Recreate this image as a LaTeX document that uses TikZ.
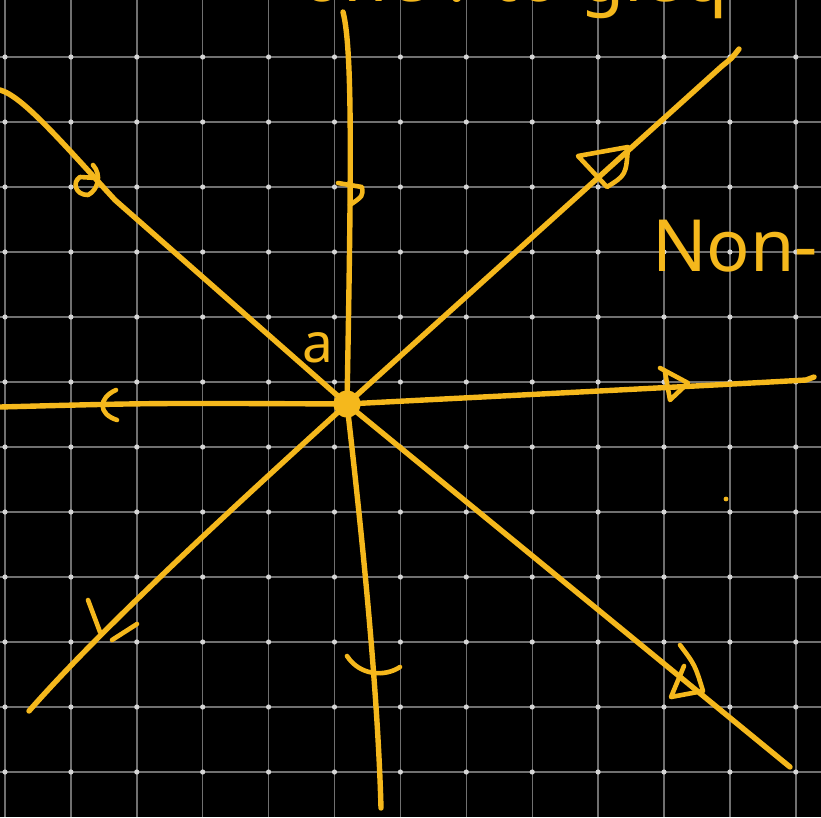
\documentclass[tikz,border=0pt]{standalone}
\usepackage{fontspec}
\setmainfont{Noto Sans}
\definecolor{yel}{HTML}{F5B81C}
\definecolor{gridgray}{HTML}{707070}
\definecolor{dotwhite}{HTML}{D4D4D4}
\begin{document}
\begin{tikzpicture}[x=1pt,y=-1pt,
  gridline/.style={draw=gridgray,line width=1.4pt},
  curve/.style={draw=yel,line width=5.4pt,line cap=round,line join=round},
  tip/.style={draw=yel,line width=4.6pt,line cap=round,line join=round},
  lbl/.style={text=yel,inner sep=0pt,anchor=base west}]
\useasboundingbox (0,0) rectangle (821,817);
\fill[black] (0,0) rectangle (821,817);
\begin{scope}
\clip (0,0) rectangle (821,817);
% grid
\foreach \i in {0,...,12} \draw[gridline] ({5+65.9*\i},0) -- ({5+65.9*\i},817);
\foreach \j in {0,...,11} \draw[gridline] (0,{57+65*\j}) -- (821,{57+65*\j});
\foreach \i in {0,...,12} \foreach \j in {0,...,11} \fill[dotwhite] ({5+65.9*\i},{57+65*\j}) circle (2.6pt);
% named points
\coordinate (c) at (347,404);
\coordinate (nt) at (343,12);
\coordinate (ne) at (739,49);
\coordinate (e) at (814,377);
\coordinate (se) at (790,767);
\coordinate (s) at (381,808);
\coordinate (sw) at (29,711);
\coordinate (w) at (0,407);
\coordinate (nw) at (0,90);
% trajectories
\draw[curve] (c) .. controls (351,180) and (353,50) .. (nt);
\draw[curve] (c) -- (722,66) .. controls (732,58) .. (ne);
\draw[curve] (c) .. controls (500,396) and (700,386) .. (806,380) -- (e);
\draw[curve] (c) -- (se);
\draw[curve] (c) .. controls (365,560) and (378,700) .. (s);
\draw[curve] (c) .. controls (230,510) and (100,630) .. (sw);
\draw[curve] (w) .. controls (150,403) .. (c);
\draw[curve] (nw) .. controls (22,96) and (60,140) .. (115,200) -- (c);
% arrow marks
\draw[tip] (338,183) -- (362,187) .. controls (363,196) .. (350,205);
\draw[tip] (578,156) -- (628,147) .. controls (626,175) .. (607,187) -- cycle;
\draw[tip] (660,368) -- (688,383) -- (670,400) -- (665,372);
\draw[tip] (680,645) .. controls (695,665) .. (703,691) -- (671,697) -- (684,666);
\draw[tip] (347,656) .. controls (360,676) and (385,677) .. (400,667);
\draw[tip] (88,600) -- (100,632);
\draw[tip] (112,640) -- (137,624);
\draw[tip] (116,390) .. controls (98,398) and (98,414) .. (117,420);
\draw[tip] (93,165) .. controls (102,175) and (98,190) .. (88,195) .. controls (75,195) and (72,182) .. (80,177) -- (96,178);
% centre point
\node[circle,fill=yel,minimum size=27pt,inner sep=0pt] (centre) at (c) {};
\fill[yel] (726,499) circle (2.4pt);
% labels
\node[lbl,font=\fontsize{72}{72}\selectfont] (non) at (652,271) {Non-};
\node[lbl,font=\fontsize{55}{55}\selectfont] (alab) at (302,362) {a};
\node[lbl,font=\fontsize{72}{72}\selectfont] (toptxt) at (300,1) {one : to gleq};
\end{scope}
\end{tikzpicture}
\end{document}
